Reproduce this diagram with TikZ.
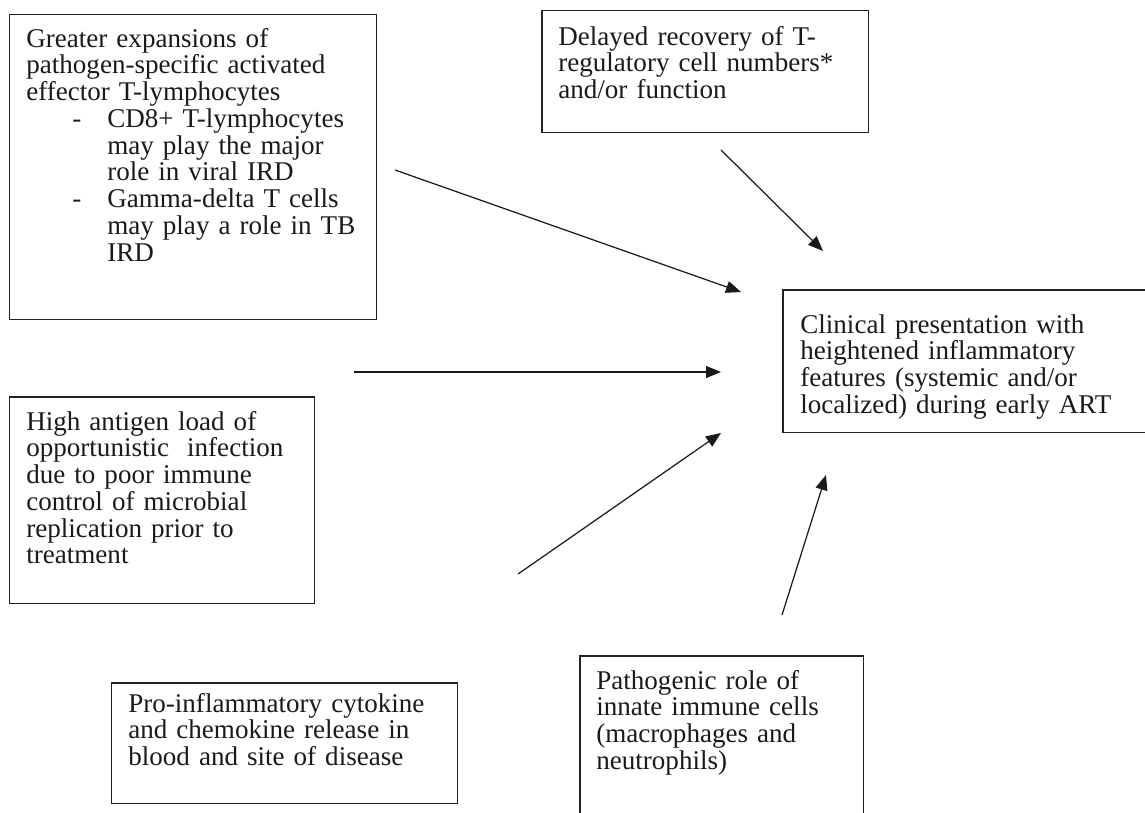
\documentclass[tikz,border=0pt]{standalone}
\usepackage{fontspec}
\setmainfont{Liberation Serif}
\usepackage{xcolor}
\usepackage{tikz}
\usetikzlibrary{arrows.meta}
\definecolor{ink}{HTML}{1A1A1A}
\definecolor{frame}{HTML}{222222}
\newcommand{\boxfont}{\fontsize{15.4pt}{15.25pt}\selectfont}
\newcommand{\dashitem}{\makebox[1.62cm][l]{\hspace*{0.92cm}-}}
\newcommand{\itemgap}{\hspace*{1.62cm}}
\tikzset{
  box/.style={draw=frame, line width=0.85pt, rectangle, anchor=north west, inner sep=0pt},
  txt/.style={anchor=base west, inner sep=0pt, align=left, text width=6.4cm, text=ink,
    font=\boxfont},
  link/.style={draw=ink, line width=0.7pt, -{Triangle[length=0.3cm, width=0.24cm]}}
}
\begin{document}
\begin{tikzpicture}[x=0.02cm, y=-0.02cm]
  \useasboundingbox (0,0) rectangle (1145,812);

  % frames
  \node[box, minimum width=7.34cm, minimum height=6.10cm] (effbox) at (9,14) {};
  \node[box, minimum width=6.54cm, minimum height=2.44cm] (tregbox) at (541,10) {};
  \node[box, minimum width=7.40cm, minimum height=2.86cm] (clinbox) at (782,289) {};
  \node[box, minimum width=6.10cm, minimum height=4.14cm] (antbox) at (9,396) {};
  \node[box, minimum width=6.92cm, minimum height=2.42cm] (cytobox) at (111,682) {};
  \node[box, minimum width=5.68cm, minimum height=3.30cm] (innbox) at (579,655) {};

  % texts
  \node[txt, text width=6.9cm] (efftxt) at (26,47) {Greater expansions of\\
    pathogen-specific activated\\
    effector T-lymphocytes\\
    \dashitem CD8+ T-lymphocytes\\
    \itemgap may play the major\\
    \itemgap role in viral IRD\\
    \dashitem Gamma-delta T cells\\
    \itemgap may play a role in TB\\
    \itemgap IRD};
  \node[txt] (tregtxt) at (558,45) {Delayed recovery of T-\\
    regulatory cell numbers*\\
    and/or function};
  \node[txt] (clintxt) at (800,333) {Clinical presentation with\\
    heightened inflammatory\\
    features (systemic and/or\\
    localized) during early ART};
  \node[txt] (anttxt) at (26,430) {High antigen load of\\
    opportunistic\ \ infection\\
    due to poor immune\\
    control of microbial\\
    replication prior to\\
    treatment};
  \node[txt] (cytotxt) at (128,712) {Pro-inflammatory cytokine\\
    and chemokine release in\\
    blood and site of disease};
  \node[txt] (inntxt) at (596,689) {Pathogenic role of\\
    innate immune cells\\
    (macrophages and\\
    neutrophils)};

  % arrow ends
  \coordinate (effS) at (395,170);  \coordinate (effE) at (741,292);
  \coordinate (tregS) at (721,150); \coordinate (tregE) at (823,251);
  \coordinate (antS) at (354,372);  \coordinate (antE) at (721,372);
  \coordinate (cytoS) at (518,574); \coordinate (cytoE) at (721,433);
  \coordinate (innS) at (782,615);  \coordinate (innE) at (826,475);

  \draw[link] (effS) -- (effE);
  \draw[link] (tregS) -- (tregE);
  \draw[link] (antS) -- (antE);
  \draw[link] (cytoS) -- (cytoE);
  \draw[link] (innS) -- (innE);
\end{tikzpicture}
\end{document}
